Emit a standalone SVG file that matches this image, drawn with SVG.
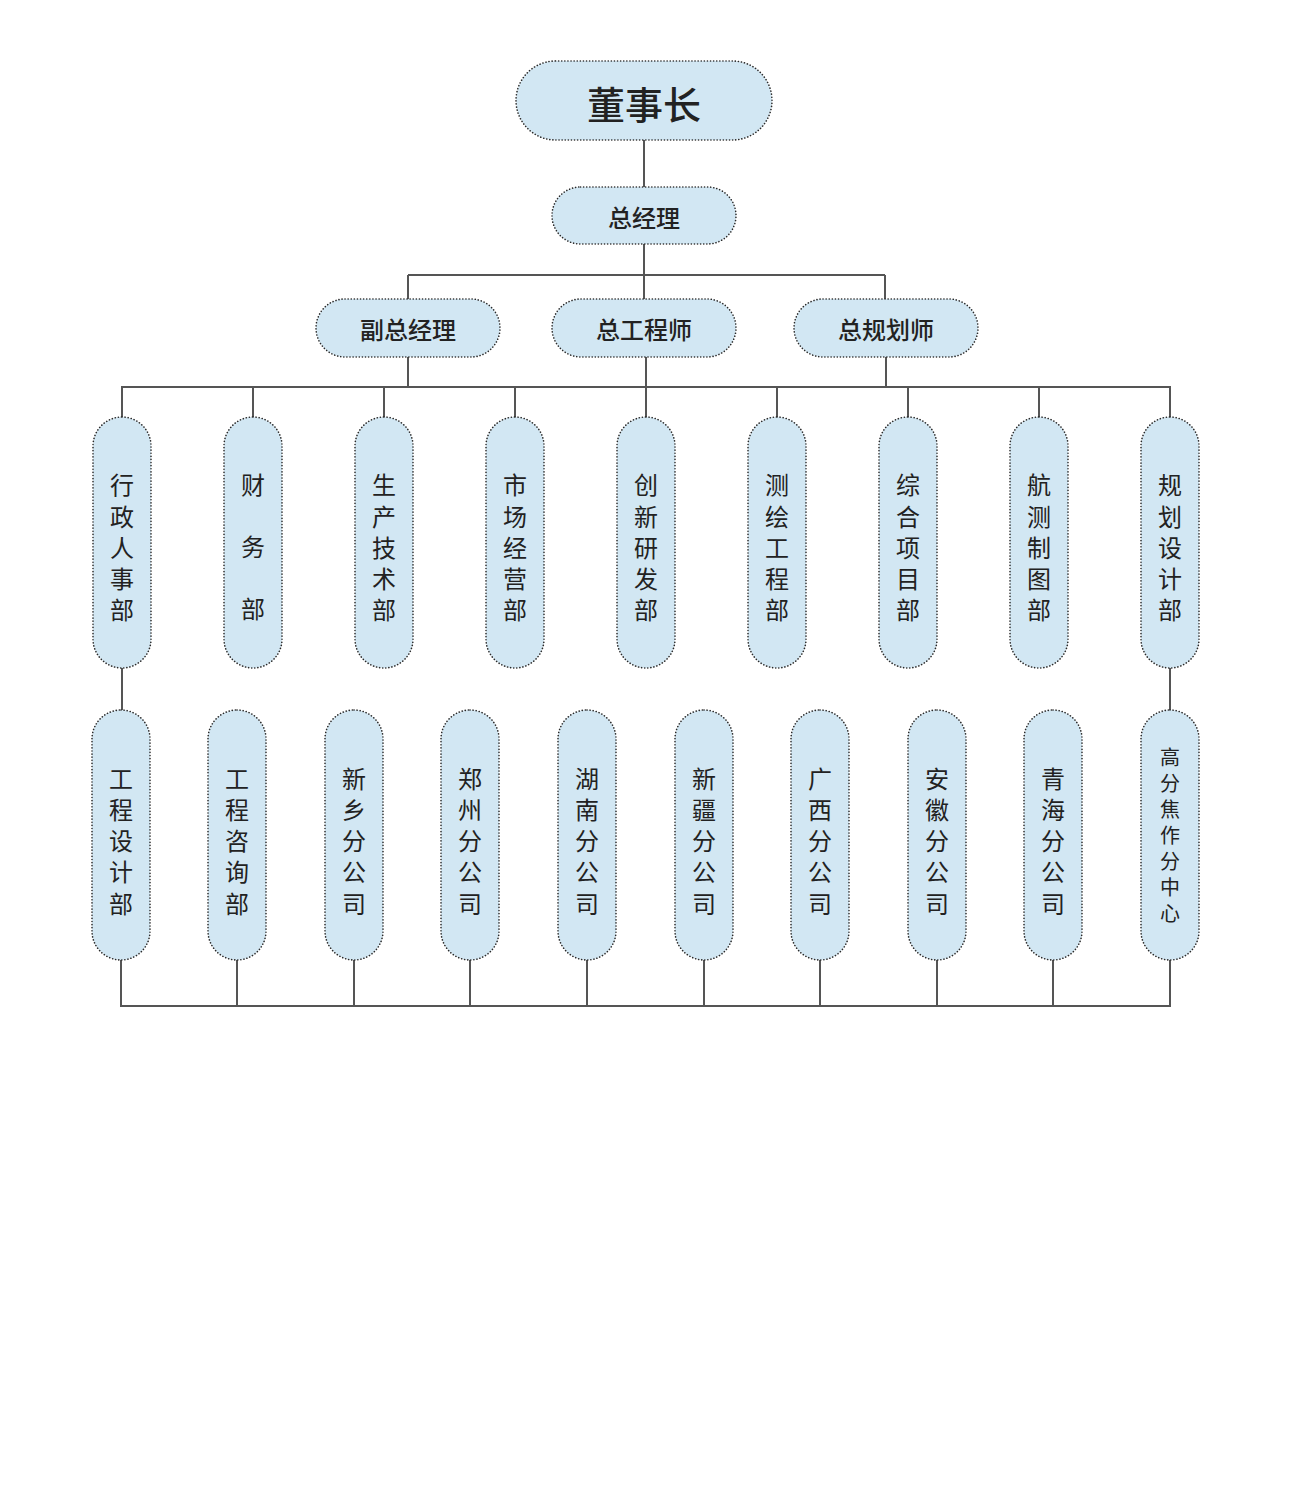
<svg xmlns="http://www.w3.org/2000/svg" width="1292" height="1500" viewBox="0 0 1292 1500">
<style>
.n{fill:#d2e7f3;stroke:#2a2a2a;stroke-width:1.6;stroke-dasharray:0.1 3;stroke-linecap:round}
.t{font-family:"Noto Sans CJK SC","Noto Sans",sans-serif;fill:#222;text-anchor:middle;dominant-baseline:central}
.b{font-weight:500}
.c{fill:none;stroke:#555;stroke-width:2}
</style>
<rect width="1292" height="1500" fill="#fff"/>
<g id="connectors" class="c">
<path d="M644 140V187M644 244V275M408 275H885M408 275V299M644 275V299M885 275V299"/>
<path d="M408 357V387M646 357V387M886 357V387M121 387H1171"/>
<path d="M122 387V417M253 387V417M384 387V417M515 387V417M646 387V417M777 387V417M908 387V417M1039 387V417M1170 387V417"/>
<path d="M122 668V710M1170 668V710"/>
<path d="M121 960V1006M237 960V1006M354 960V1006M470 960V1006M587 960V1006M704 960V1006M820 960V1006M937 960V1006M1053 960V1006M1170 960V1006M120 1006H1171"/>
</g>
<g id="n-dsz"><rect class="n" x="516" y="61" width="256" height="79" rx="39.5"/><text class="t b" x="644" y="102" font-size="38">董事长</text></g>
<g id="n-zjl"><rect class="n" x="552" y="187" width="184" height="57" rx="28.5"/><text class="t b" x="644" y="216" font-size="24">总经理</text></g>
<g id="n-fzjl"><rect class="n" x="316" y="299" width="184" height="58" rx="29"/><text class="t b" x="408" y="328" font-size="24">副总经理</text></g>
<g id="n-zgcs"><rect class="n" x="552" y="299" width="184" height="58" rx="29"/><text class="t b" x="644" y="328" font-size="24">总工程师</text></g>
<g id="n-zghs"><rect class="n" x="794" y="299" width="184" height="58" rx="29"/><text class="t b" x="886" y="328" font-size="24">总规划师</text></g>

<g id="d1"><rect class="n" x="93" y="417" width="58" height="251" rx="29"/><text class="t" font-size="24"><tspan x="122" y="483">行</tspan><tspan x="122" y="515">政</tspan><tspan x="122" y="546">人</tspan><tspan x="122" y="577">事</tspan><tspan x="122" y="608">部</tspan></text></g>
<g id="d2"><rect class="n" x="224" y="417" width="58" height="251" rx="29"/><text class="t" font-size="24"><tspan x="253" y="483">财</tspan><tspan x="253" y="545">务</tspan><tspan x="253" y="607">部</tspan></text></g>
<g id="d3"><rect class="n" x="355" y="417" width="58" height="251" rx="29"/><text class="t" font-size="24"><tspan x="384" y="483">生</tspan><tspan x="384" y="515">产</tspan><tspan x="384" y="546">技</tspan><tspan x="384" y="577">术</tspan><tspan x="384" y="608">部</tspan></text></g>
<g id="d4"><rect class="n" x="486" y="417" width="58" height="251" rx="29"/><text class="t" font-size="24"><tspan x="515" y="483">市</tspan><tspan x="515" y="515">场</tspan><tspan x="515" y="546">经</tspan><tspan x="515" y="577">营</tspan><tspan x="515" y="608">部</tspan></text></g>
<g id="d5"><rect class="n" x="617" y="417" width="58" height="251" rx="29"/><text class="t" font-size="24"><tspan x="646" y="483">创</tspan><tspan x="646" y="515">新</tspan><tspan x="646" y="546">研</tspan><tspan x="646" y="577">发</tspan><tspan x="646" y="608">部</tspan></text></g>
<g id="d6"><rect class="n" x="748" y="417" width="58" height="251" rx="29"/><text class="t" font-size="24"><tspan x="777" y="483">测</tspan><tspan x="777" y="515">绘</tspan><tspan x="777" y="546">工</tspan><tspan x="777" y="577">程</tspan><tspan x="777" y="608">部</tspan></text></g>
<g id="d7"><rect class="n" x="879" y="417" width="58" height="251" rx="29"/><text class="t" font-size="24"><tspan x="908" y="483">综</tspan><tspan x="908" y="515">合</tspan><tspan x="908" y="546">项</tspan><tspan x="908" y="577">目</tspan><tspan x="908" y="608">部</tspan></text></g>
<g id="d8"><rect class="n" x="1010" y="417" width="58" height="251" rx="29"/><text class="t" font-size="24"><tspan x="1039" y="483">航</tspan><tspan x="1039" y="515">测</tspan><tspan x="1039" y="546">制</tspan><tspan x="1039" y="577">图</tspan><tspan x="1039" y="608">部</tspan></text></g>
<g id="d9"><rect class="n" x="1141" y="417" width="58" height="251" rx="29"/><text class="t" font-size="24"><tspan x="1170" y="483">规</tspan><tspan x="1170" y="515">划</tspan><tspan x="1170" y="546">设</tspan><tspan x="1170" y="577">计</tspan><tspan x="1170" y="608">部</tspan></text></g>

<g id="s1"><rect class="n" x="92" y="710" width="58" height="250" rx="29"/><text class="t" font-size="24"><tspan x="121" y="777">工</tspan><tspan x="121" y="808">程</tspan><tspan x="121" y="839">设</tspan><tspan x="121" y="870">计</tspan><tspan x="121" y="902">部</tspan></text></g>
<g id="s2"><rect class="n" x="208" y="710" width="58" height="250" rx="29"/><text class="t" font-size="24"><tspan x="237" y="777">工</tspan><tspan x="237" y="808">程</tspan><tspan x="237" y="839">咨</tspan><tspan x="237" y="870">询</tspan><tspan x="237" y="902">部</tspan></text></g>
<g id="s3"><rect class="n" x="325" y="710" width="58" height="250" rx="29"/><text class="t" font-size="24"><tspan x="354" y="777">新</tspan><tspan x="354" y="808">乡</tspan><tspan x="354" y="839">分</tspan><tspan x="354" y="870">公</tspan><tspan x="354" y="902">司</tspan></text></g>
<g id="s4"><rect class="n" x="441" y="710" width="58" height="250" rx="29"/><text class="t" font-size="24"><tspan x="470" y="777">郑</tspan><tspan x="470" y="808">州</tspan><tspan x="470" y="839">分</tspan><tspan x="470" y="870">公</tspan><tspan x="470" y="902">司</tspan></text></g>
<g id="s5"><rect class="n" x="558" y="710" width="58" height="250" rx="29"/><text class="t" font-size="24"><tspan x="587" y="777">湖</tspan><tspan x="587" y="808">南</tspan><tspan x="587" y="839">分</tspan><tspan x="587" y="870">公</tspan><tspan x="587" y="902">司</tspan></text></g>
<g id="s6"><rect class="n" x="675" y="710" width="58" height="250" rx="29"/><text class="t" font-size="24"><tspan x="704" y="777">新</tspan><tspan x="704" y="808">疆</tspan><tspan x="704" y="839">分</tspan><tspan x="704" y="870">公</tspan><tspan x="704" y="902">司</tspan></text></g>
<g id="s7"><rect class="n" x="791" y="710" width="58" height="250" rx="29"/><text class="t" font-size="24"><tspan x="820" y="777">广</tspan><tspan x="820" y="808">西</tspan><tspan x="820" y="839">分</tspan><tspan x="820" y="870">公</tspan><tspan x="820" y="902">司</tspan></text></g>
<g id="s8"><rect class="n" x="908" y="710" width="58" height="250" rx="29"/><text class="t" font-size="24"><tspan x="937" y="777">安</tspan><tspan x="937" y="808">徽</tspan><tspan x="937" y="839">分</tspan><tspan x="937" y="870">公</tspan><tspan x="937" y="902">司</tspan></text></g>
<g id="s9"><rect class="n" x="1024" y="710" width="58" height="250" rx="29"/><text class="t" font-size="24"><tspan x="1053" y="777">青</tspan><tspan x="1053" y="808">海</tspan><tspan x="1053" y="839">分</tspan><tspan x="1053" y="870">公</tspan><tspan x="1053" y="902">司</tspan></text></g>
<g id="s10"><rect class="n" x="1141" y="710" width="58" height="250" rx="29"/><text class="t" font-size="20"><tspan x="1170" y="756">高</tspan><tspan x="1170" y="782">分</tspan><tspan x="1170" y="808">焦</tspan><tspan x="1170" y="834">作</tspan><tspan x="1170" y="860">分</tspan><tspan x="1170" y="886">中</tspan><tspan x="1170" y="912">心</tspan></text></g>
</svg>
